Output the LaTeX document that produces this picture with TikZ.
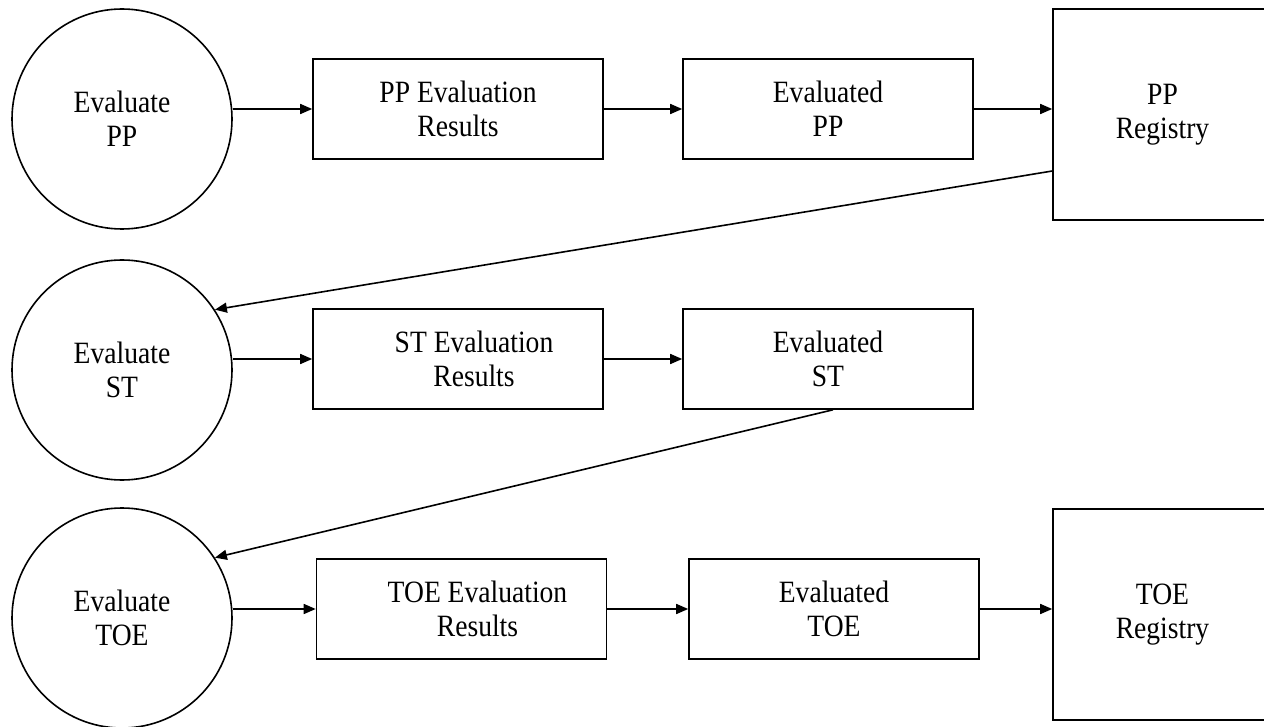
\documentclass[tikz,border=0pt]{standalone}
\usepackage{fontspec}
\setmainfont{Liberation Serif}[FakeStretch=0.89]
\usetikzlibrary{arrows.meta}
\tikzset{
  every node/.style={font=\fontsize{31pt}{34pt}\selectfont, align=center, line width=1.6pt},
  proc/.style={draw, circle, minimum size=220pt, inner sep=0pt},
  dbox/.style={draw, rectangle, minimum width=290pt, minimum height=100pt, inner sep=0pt},
  reg/.style={draw, rectangle, minimum width=219pt, minimum height=211pt, inner sep=0pt},
  arr/.style={line width=1.6pt, -{Triangle[length=12pt,width=10pt]}},
  lnk/.style={line width=1.6pt, -{Triangle[length=12pt,width=10pt]}}
}
\begin{document}
\begin{tikzpicture}[x=1pt, y=-1pt]
\useasboundingbox (0,0) rectangle (1264,727);
\clip (0,0) rectangle (1264,727);
% row 1
\node[proc] (c1) at (122,119) {Evaluate\\PP};
\node[dbox] (b1) at (458,109) {PP Evaluation\\Results};
\node[dbox] (b2) at (828,109) {Evaluated\\PP};
\node[reg] (r1) at (1162.5,114.5) {PP\\Registry};
% row 2
\node[proc] (c2) at (122,370) {Evaluate\\ST};
\node[dbox] (b3) at (458,359) {\hspace*{32pt}ST Evaluation\\\hspace*{32pt}Results};
\node[dbox] (b4) at (828,359) {Evaluated\\ST};
% row 3
\node[proc] (c3) at (122,618) {Evaluate\\TOE};
\node[dbox] (b5) at (461.5,609) {\hspace*{32pt}TOE Evaluation\\\hspace*{32pt}Results};
\node[dbox] (b6) at (834,609) {Evaluated\\TOE};
\node[reg] (r2) at (1162.5,614.5) {TOE\\Registry};
% connectors
\draw[arr] (c1.east |- b1.west) -- (b1.west);
\draw[arr] (b1.east) -- (b2.west);
\draw[arr] (b2.east) -- (b2.east -| r1.west);
\draw[arr] (c2.east |- b3.west) -- (b3.west);
\draw[arr] (b3.east) -- (b4.west);
\draw[arr] (c3.east |- b5.west) -- (b5.west);
\draw[arr] (b5.east) -- (b6.west);
\draw[arr] (b6.east) -- (b6.east -| r2.west);
\draw[lnk] ([yshift=-56.5pt]r1.west) -- (c2.33);
\draw[lnk] ([xshift=5pt]b4.south) -- (c3.33);
\end{tikzpicture}
\end{document}
